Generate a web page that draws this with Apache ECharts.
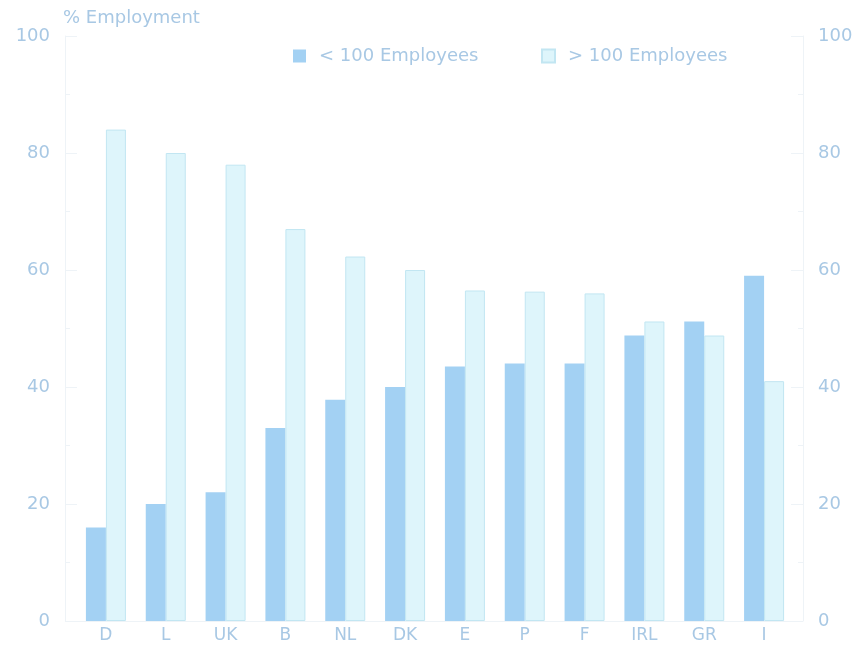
<!DOCTYPE html>
<html>
<head>
<meta charset="utf-8">
<script src="https://cdn.jsdelivr.net/npm/echarts@6/dist/echarts.min.js"></script>
<style>
  html, body { margin: 0; padding: 0; background: #fff; }
  #chart { width: 865px; height: 656px; }
</style>
</head>
<body>
<div id="chart"></div>
<script>
const countries = ['D', 'L', 'UK', 'B', 'NL', 'DK', 'E', 'P', 'F', 'IRL', 'GR', 'I']
const small = [16, 20, 22, 33, 37.8, 40, 43.5, 44, 44, 48.8, 51.2, 59]
const large = [84, 80, 78, 67, 62.3, 60, 56.5, 56.3, 56, 51.2, 48.8, 41]
const yTicks = [0, 20, 40, 60, 80, 100]

const textColor = '#a8c8e4'
const lineColor = '#eef3f7'
const font = 'DejaVu Sans, sans-serif'

const chart = echarts.init(document.getElementById('chart'))

const yAxisBase = (position, offset) => ({
  type: 'value',
  position: position,
  offset: offset,
  min: yTicks[0],
  max: yTicks[yTicks.length - 1],
  interval: 20,
  axisLine: { show: true, lineStyle: { color: lineColor, width: 1 } },
  axisTick: { show: true, inside: true, length: 12, lineStyle: { color: lineColor } },
  minorTick: { show: true, splitNumber: 2, length: 5, lineStyle: { color: lineColor } },
  splitLine: { show: false },
  axisLabel: { color: textColor, fontSize: 18, fontFamily: font, margin: 15 }
})

const legendBase = (name, left) => ({
  top: 42,
  left: left,
  icon: 'rect',
  itemWidth: 13,
  itemHeight: 13,
  textStyle: { color: textColor, fontSize: 18, fontFamily: font, padding: [0, 0, 0, 8] },
  data: [name]
})

const option = {
  animation: false,
  grid: { left: 76, right: 71, top: 36, bottom: 35 },
  legend: [legendBase('< 100 Employees', 288), legendBase('> 100 Employees', 536)],
  graphic: [{
    type: 'text',
    left: 63,
    top: 9,
    style: { text: '% Employment', fill: textColor, fontSize: 18, fontFamily: font }
  }],
  xAxis: {
    type: 'category',
    data: countries,
    axisLine: { show: true, lineStyle: { color: lineColor } },
    axisTick: { show: false },
    axisLabel: { color: textColor, fontSize: 17, fontFamily: font, margin: 6 }
  },
  yAxis: [yAxisBase('left', 11), yAxisBase('right', 9)],
  series: [
    {
      name: '< 100 Employees',
      type: 'bar',
      data: small,
      barWidth: 20,
      barGap: '0%',
      itemStyle: { color: '#a3d1f3' }
    },
    {
      name: '> 100 Employees',
      type: 'bar',
      data: large,
      barWidth: 20,
      itemStyle: { color: '#def5fb', borderColor: '#c2e6f2', borderWidth: 1 }
    }
  ]
}

chart.setOption(option)
</script>
</body>
</html>
